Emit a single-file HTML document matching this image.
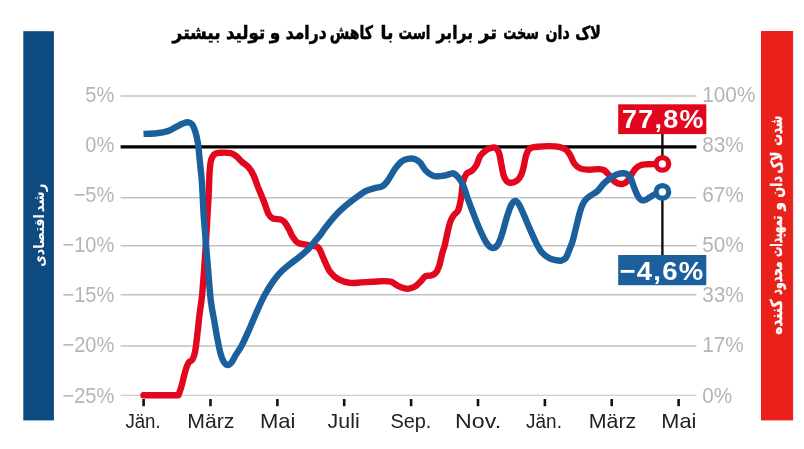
<!DOCTYPE html>
<html lang="fa"><head><meta charset="utf-8"><title>chart</title>
<style>
html,body{margin:0;padding:0;background:#fff}
body{width:804px;height:449px;overflow:hidden}
svg{display:block}
.yl{font-family:"Liberation Sans",sans-serif;font-size:21.5px;fill:#b5b5b5}
.xl{font-family:"Liberation Sans",sans-serif;font-size:20px;fill:#222}
.bl{font-family:"Liberation Sans",sans-serif;font-size:26px;font-weight:bold;fill:#fff;letter-spacing:1.2px}
.tt{font-family:"DejaVu Sans",sans-serif;font-weight:bold;fill:#000;stroke:#000;stroke-width:0.5px}
.sl{font-family:"DejaVu Sans",sans-serif;font-weight:bold;fill:#fff}
.sr{font-family:"DejaVu Sans",sans-serif;font-weight:bold;fill:#fff;stroke:#fff;stroke-width:0.35px}
</style></head><body>
<svg width="804" height="449" viewBox="0 0 804 449">
<rect width="804" height="449" fill="#fff"/>
<rect x="23.3" y="31.2" width="30.6" height="389.2" fill="#0c4a80"/>
<rect x="761" y="31" width="32.1" height="389.4" fill="#e9211a"/>
<line x1="120.6" x2="696.4" y1="96.1" y2="96.1" stroke="#c2c2c2" stroke-width="1.5"/>
<line x1="120.6" x2="696.4" y1="197.8" y2="197.8" stroke="#c2c2c2" stroke-width="1.5"/>
<line x1="120.6" x2="696.4" y1="245.7" y2="245.7" stroke="#c2c2c2" stroke-width="1.5"/>
<line x1="120.6" x2="696.4" y1="294.7" y2="294.7" stroke="#c2c2c2" stroke-width="1.5"/>
<line x1="120.6" x2="696.4" y1="346.1" y2="346.1" stroke="#c2c2c2" stroke-width="1.5"/>
<line x1="120.6" x2="696.4" y1="395.2" y2="395.2" stroke="#c2c2c2" stroke-width="1.1"/>
<text transform="translate(114.3 102.1) scale(0.932 1)" text-anchor="end" class="yl">5%</text>
<text transform="translate(702.3 102.1) scale(0.965 1)" text-anchor="start" class="yl">100%</text>
<text transform="translate(114.3 152.2) scale(0.932 1)" text-anchor="end" class="yl">0%</text>
<text transform="translate(702.3 152.2) scale(0.965 1)" text-anchor="start" class="yl">83%</text>
<text transform="translate(114.3 202.2) scale(0.932 1)" text-anchor="end" class="yl">−5%</text>
<text transform="translate(702.3 202.2) scale(0.965 1)" text-anchor="start" class="yl">67%</text>
<text transform="translate(114.3 252.3) scale(0.932 1)" text-anchor="end" class="yl">−10%</text>
<text transform="translate(702.3 252.3) scale(0.965 1)" text-anchor="start" class="yl">50%</text>
<text transform="translate(114.3 302.3) scale(0.932 1)" text-anchor="end" class="yl">−15%</text>
<text transform="translate(702.3 302.3) scale(0.965 1)" text-anchor="start" class="yl">33%</text>
<text transform="translate(114.3 352.4) scale(0.932 1)" text-anchor="end" class="yl">−20%</text>
<text transform="translate(702.3 352.4) scale(0.965 1)" text-anchor="start" class="yl">17%</text>
<text transform="translate(114.3 402.5) scale(0.932 1)" text-anchor="end" class="yl">−25%</text>
<text transform="translate(702.3 402.5) scale(0.965 1)" text-anchor="start" class="yl">0%</text>
<line x1="143.6" x2="143.6" y1="399" y2="406.2" stroke="#111" stroke-width="2.6"/>
<text transform="translate(143.0 428.2) scale(0.933 1)" text-anchor="middle" class="xl">Jän.</text>
<line x1="210.5" x2="210.5" y1="399" y2="406.2" stroke="#111" stroke-width="2.6"/>
<text transform="translate(210.8 428.2) scale(1.064 1)" text-anchor="middle" class="xl">März</text>
<line x1="277.4" x2="277.4" y1="399" y2="406.2" stroke="#111" stroke-width="2.6"/>
<text transform="translate(277.6 428.2) scale(1.100 1)" text-anchor="middle" class="xl">Mai</text>
<line x1="344.2" x2="344.2" y1="399" y2="406.2" stroke="#111" stroke-width="2.6"/>
<text transform="translate(343.6 428.2) scale(1.068 1)" text-anchor="middle" class="xl">Juli</text>
<line x1="411.1" x2="411.1" y1="399" y2="406.2" stroke="#111" stroke-width="2.6"/>
<text transform="translate(410.9 428.2) scale(0.997 1)" text-anchor="middle" class="xl">Sep.</text>
<line x1="478.0" x2="478.0" y1="399" y2="406.2" stroke="#111" stroke-width="2.6"/>
<text transform="translate(478.1 428.2) scale(1.161 1)" text-anchor="middle" class="xl">Nov.</text>
<line x1="544.9" x2="544.9" y1="399" y2="406.2" stroke="#111" stroke-width="2.6"/>
<text transform="translate(544.0 428.2) scale(0.947 1)" text-anchor="middle" class="xl">Jän.</text>
<line x1="611.7" x2="611.7" y1="399" y2="406.2" stroke="#111" stroke-width="2.6"/>
<text transform="translate(612.5 428.2) scale(1.071 1)" text-anchor="middle" class="xl">März</text>
<line x1="678.6" x2="678.6" y1="399" y2="406.2" stroke="#111" stroke-width="2.6"/>
<text transform="translate(678.8 428.2) scale(1.086 1)" text-anchor="middle" class="xl">Mai</text>
<line x1="662.4" x2="662.4" y1="133" y2="158" stroke="#111" stroke-width="2.4"/>
<line x1="662.4" x2="662.4" y1="197" y2="256" stroke="#111" stroke-width="2.4"/>
<line x1="120.6" x2="696.4" y1="146.8" y2="146.8" stroke="#000" stroke-width="3.2"/>
<path d="M143.5 395.3C149.3 395.3 178.4 395.3 178.4 395.3C178.4 395.3 180.7 389.0 181.8 385.1C182.9 381.2 184.0 375.5 185.1 371.8C186.2 368.1 187.3 364.9 188.5 362.9C189.7 360.8 191.4 361.4 192.5 359.5C193.6 357.6 194.3 356.0 195.1 351.7C195.9 347.4 196.7 340.2 197.4 333.9C198.2 327.6 198.9 319.5 199.6 313.9C200.3 308.3 201.0 304.4 201.5 300.5C202.0 296.6 202.1 295.8 202.5 290.5C202.9 285.2 203.6 276.7 204.2 268.5C204.8 260.3 205.5 249.8 206.0 241.5C206.5 233.2 206.9 226.1 207.3 218.5C207.7 210.9 208.2 203.6 208.6 196.2C209.0 188.8 209.1 179.8 209.5 173.9C209.9 168.0 210.1 163.8 211.0 160.5C211.9 157.2 213.2 155.2 215.0 153.9C216.8 152.6 219.1 152.8 221.7 152.7C224.3 152.6 228.2 152.6 230.6 153.2C233.0 153.8 234.3 154.7 236.2 156.1C238.1 157.5 239.8 159.8 241.8 161.7C243.9 163.5 246.6 165.0 248.5 167.2C250.4 169.4 251.7 171.5 253.4 175.0C255.1 178.5 256.7 184.0 258.5 188.4C260.3 192.8 262.3 197.4 264.0 201.7C265.7 206.0 267.0 211.2 268.5 214.0C270.0 216.8 271.0 217.6 273.0 218.5C275.0 219.4 278.7 218.9 280.7 219.6C282.7 220.3 283.7 221.1 285.2 222.9C286.7 224.8 288.5 228.5 289.7 230.7C290.9 232.9 290.9 234.1 292.3 236.1C293.7 238.1 295.2 241.3 297.8 242.8C300.4 244.3 304.5 244.2 307.9 245.0C311.2 245.8 315.3 245.1 317.9 247.3C320.5 249.5 321.5 254.3 323.5 258.4C325.5 262.5 327.5 268.3 330.1 271.8C332.7 275.3 335.7 277.8 339.0 279.6C342.3 281.5 346.3 282.4 350.0 282.9C353.7 283.4 357.4 282.6 361.1 282.4C364.8 282.2 368.6 282.0 372.3 281.8C376.0 281.6 380.2 281.1 383.4 281.1C386.5 281.1 388.8 281.0 391.2 281.8C393.6 282.6 395.7 284.7 397.9 285.8C400.1 286.9 402.6 288.0 404.6 288.4C406.6 288.8 408.2 288.8 410.1 288.4C412.0 288.0 413.8 287.5 415.7 286.2C417.6 284.9 419.6 282.4 421.3 280.7C423.0 279.0 424.0 277.1 425.7 276.2C427.4 275.3 429.6 276.1 431.3 275.5C433.0 274.9 434.4 274.4 435.7 272.9C437.0 271.3 438.0 269.5 439.1 266.2C440.2 262.9 441.5 256.2 442.4 252.8C443.3 249.4 443.8 248.9 444.7 245.5C445.6 242.1 446.6 236.5 447.5 232.5C448.4 228.5 449.4 224.3 450.4 221.5C451.4 218.7 452.4 217.2 453.6 215.5C454.8 213.8 456.8 212.8 457.8 211.0C458.8 209.2 459.2 206.9 459.8 204.5C460.4 202.1 460.8 200.3 461.3 196.5C461.9 192.7 462.2 185.5 463.1 181.7C464.0 177.9 464.9 175.8 466.4 173.9C467.9 172.1 470.3 172.1 472.0 170.6C473.7 169.1 475.1 167.4 476.5 165.0C477.9 162.6 478.6 158.5 480.1 156.1C481.6 153.7 483.9 151.9 485.7 150.5C487.5 149.1 489.5 148.3 491.2 147.9C492.9 147.5 494.4 147.1 495.7 147.9C497.0 148.7 498.1 150.1 499.0 152.8C499.9 155.5 500.6 160.2 501.3 163.9C502.1 167.6 502.6 172.1 503.5 175.0C504.4 177.9 505.5 180.0 506.8 181.3C508.1 182.6 509.6 182.9 511.3 182.8C513.0 182.7 515.3 181.7 516.9 180.6C518.5 179.5 519.6 178.0 520.7 176.0C521.8 174.0 522.4 171.9 523.3 168.4C524.2 164.9 525.1 158.3 526.2 155.0C527.3 151.7 528.1 149.7 530.0 148.3C531.9 146.9 534.6 147.2 537.8 146.8C541.0 146.4 545.5 146.1 549.0 146.1C552.5 146.1 556.2 146.2 559.0 146.8C561.8 147.4 563.9 148.0 565.7 149.4C567.6 150.8 568.6 152.6 570.1 155.0C571.6 157.4 572.9 161.7 574.6 163.9C576.3 166.1 577.7 167.4 580.1 168.4C582.5 169.4 585.9 169.6 589.0 169.7C592.1 169.8 596.0 169.0 598.5 169.1C601.0 169.2 602.3 169.2 604.0 170.1C605.7 171.0 607.0 172.8 608.5 174.5C610.0 176.2 611.5 178.7 613.0 180.1C614.5 181.5 615.9 182.5 617.4 183.2C618.9 183.8 620.8 184.2 622.3 184.0C623.8 183.8 625.2 183.2 626.7 181.7C628.2 180.2 629.7 177.2 631.2 175.0C632.7 172.8 634.0 170.1 635.7 168.4C637.4 166.7 639.2 165.7 641.2 165.0C643.2 164.3 645.5 164.5 647.9 164.3C650.3 164.1 653.3 164.1 655.7 164.0C658.1 163.9 661.3 163.9 662.4 163.9" fill="none" stroke="#e2071c" stroke-width="6.4" stroke-linecap="round" stroke-linejoin="round"/>
<path d="M143.5 133.9C145.7 133.8 152.6 133.8 156.7 133.3C160.8 132.8 164.7 132.1 167.8 131.1C171.0 130.1 173.2 128.4 175.6 127.2C178.0 126.0 180.3 124.6 182.3 123.8C184.3 123.0 186.0 122.1 187.7 122.2C189.3 122.3 190.9 122.9 192.2 124.5C193.5 126.1 194.4 128.9 195.4 132.0C196.4 135.1 197.1 137.8 197.9 143.0C198.7 148.2 199.3 156.6 200.0 162.9C200.7 169.2 201.3 174.4 201.8 180.7C202.3 187.0 202.6 194.2 202.9 200.5C203.2 206.8 203.4 211.8 203.9 218.5C204.4 225.2 205.0 231.8 205.7 240.5C206.4 249.2 207.3 260.5 208.2 270.5C209.0 280.5 209.8 292.2 210.8 300.5C211.8 308.8 213.0 313.8 214.2 320.5C215.3 327.2 216.6 334.8 217.7 340.5C218.8 346.2 219.8 350.9 220.8 354.5C221.9 358.1 222.8 360.5 224.0 362.3C225.2 364.1 226.5 365.1 227.8 365.1C229.1 365.1 230.3 363.9 231.6 362.3C232.8 360.8 233.6 358.7 235.3 355.8C237.0 352.9 239.5 349.9 242.0 345.0C244.5 340.1 247.3 333.7 250.5 326.5C253.7 319.3 258.3 308.0 261.2 301.8C264.1 295.6 265.7 293.2 267.9 289.5C270.1 285.8 272.1 282.6 274.5 279.5C276.9 276.4 279.7 273.2 282.3 270.6C284.9 268.0 287.3 266.1 290.1 263.9C292.9 261.7 296.2 259.4 299.0 257.2C301.8 255.0 304.2 253.1 306.8 250.5C309.4 247.9 312.2 244.4 314.6 241.6C317.0 238.8 319.5 235.9 321.3 233.5C323.1 231.1 323.1 230.5 325.7 227.2C328.3 223.9 332.9 217.9 336.8 213.9C340.7 209.9 345.4 205.9 348.9 203.0C352.4 200.1 354.8 198.4 357.8 196.3C360.8 194.2 363.7 192.1 366.7 190.7C369.7 189.3 373.0 188.5 375.6 187.8C378.2 187.1 380.2 187.5 382.3 186.3C384.4 185.1 385.8 183.3 387.9 180.5C389.9 177.7 392.4 172.6 394.6 169.5C396.8 166.4 399.0 163.5 401.2 161.7C403.4 159.9 405.7 159.2 407.9 158.8C410.1 158.4 412.6 158.3 414.6 159.0C416.7 159.7 418.4 160.9 420.2 162.8C422.0 164.7 423.6 168.4 425.7 170.6C427.8 172.8 430.9 174.8 432.8 175.7C434.7 176.6 435.3 176.3 437.1 176.3C438.9 176.3 441.6 176.1 443.8 175.7C446.0 175.3 448.7 174.3 450.4 173.9C452.1 173.5 452.5 172.9 453.8 173.5C455.1 174.1 456.6 175.4 458.2 177.3C459.8 179.2 461.6 181.7 463.1 185.1C464.7 188.5 465.8 193.4 467.5 198.0C469.2 202.6 471.1 207.6 473.1 212.8C475.2 218.1 477.6 224.5 479.8 229.5C482.0 234.5 484.5 239.7 486.5 242.8C488.5 245.9 490.1 247.5 492.0 247.9C493.9 248.3 495.9 247.3 497.6 245.0C499.3 242.7 500.6 238.3 502.1 233.9C503.6 229.5 505.0 223.0 506.5 218.3C508.0 213.6 509.6 208.4 511.0 205.5C512.4 202.6 513.3 201.3 514.6 201.1C515.9 200.9 517.2 201.6 518.8 204.1C520.4 206.6 522.3 211.4 524.3 215.9C526.3 220.4 528.7 226.4 530.8 231.1C532.9 235.8 534.8 240.3 536.7 243.9C538.6 247.5 540.2 250.5 542.3 252.8C544.3 255.2 546.8 256.8 549.0 258.0C551.2 259.2 553.6 259.8 555.6 260.2C557.6 260.6 559.5 261.0 561.2 260.6C562.9 260.2 564.3 259.9 565.7 258.0C567.1 256.1 568.3 252.4 569.5 249.5C570.7 246.6 571.8 244.0 572.8 240.5C573.8 237.0 574.6 233.1 575.8 228.5C576.9 223.9 578.6 216.8 579.7 212.8C580.8 208.8 581.6 206.7 582.6 204.5C583.6 202.3 584.3 201.2 585.5 199.8C586.7 198.4 588.0 197.5 590.0 196.0C592.0 194.5 595.5 192.8 597.7 190.8C599.9 188.8 601.4 186.1 603.4 184.0C605.4 181.9 607.8 180.0 610.0 178.4C612.2 176.8 614.5 175.4 616.7 174.6C618.9 173.8 621.5 173.3 623.4 173.3C625.3 173.3 626.6 173.6 627.9 174.6C629.2 175.6 630.1 177.3 631.2 179.5C632.3 181.7 633.2 185.2 634.3 187.9C635.3 190.6 636.5 193.6 637.5 195.5C638.5 197.4 639.4 198.8 640.6 199.6C641.8 200.4 643.1 200.5 644.6 200.2C646.1 199.9 647.8 198.6 649.5 197.6C651.2 196.6 652.5 195.3 654.6 194.4C656.8 193.5 661.1 192.3 662.4 191.9" fill="none" stroke="#1b609d" stroke-width="6.4" stroke-linecap="butt" stroke-linejoin="round"/>
<circle cx="662.4" cy="163.9" r="6.3" fill="#fff" stroke="#e2071c" stroke-width="5.3"/>
<circle cx="662.4" cy="191.9" r="6.3" fill="#fff" stroke="#1b609d" stroke-width="5.3"/>
<rect x="618.2" y="104.3" width="88.1" height="29.8" fill="#e2071c"/>
<text transform="translate(663.3 128.2) scale(1.037 1)" text-anchor="middle" class="bl">77,8%</text>
<rect x="618.2" y="255" width="88.1" height="30.2" fill="#1b609d"/>
<text transform="translate(662 279.5) scale(1.059 1)" text-anchor="middle" class="bl">−4,6%</text>
<g class="tt" font-size="17.5">
<text transform="translate(588.0 38.8) scale(0.832 1.06)" text-anchor="middle" direction="rtl">لاک</text>
<text transform="translate(557.6 38.8) scale(0.813 1.06)" text-anchor="middle" direction="rtl">دان</text>
<text transform="translate(521.2 38.8) scale(0.738 1.06)" text-anchor="middle" direction="rtl">سخت</text>
<text transform="translate(488.1 38.8) scale(1.037 1.06)" text-anchor="middle" direction="rtl">تر</text>
<text transform="translate(454.8 38.8) scale(0.889 1.06)" text-anchor="middle" direction="rtl">برابر</text>
<text transform="translate(414.5 38.8) scale(0.765 1.06)" text-anchor="middle" direction="rtl">است</text>
<text transform="translate(387.0 38.8) scale(0.981 1.06)" text-anchor="middle" direction="rtl">با</text>
<text transform="translate(351.3 38.8) scale(0.808 1.06)" text-anchor="middle" direction="rtl">کاهش</text>
<text transform="translate(306.2 38.8) scale(0.889 1.06)" text-anchor="middle" direction="rtl">درامد</text>
<text transform="translate(274.9 38.8) scale(0.971 1.06)" text-anchor="middle" direction="rtl">و</text>
<text transform="translate(245.6 38.8) scale(0.947 1.06)" text-anchor="middle" direction="rtl">تولید</text>
<text transform="translate(196.6 38.8) scale(0.971 1.06)" text-anchor="middle" direction="rtl">بیشتر</text>
</g>
<g class="sl" font-size="14.6">
<text transform="translate(43.6 197.9) rotate(-90) scale(0.920 1)" text-anchor="middle" direction="rtl">رشد</text>
<text transform="translate(43.6 240.5) rotate(-90) scale(0.857 1)" text-anchor="middle" direction="rtl">اقتصادی</text>
</g>
<g class="sr" font-size="16.4">
<text transform="translate(782.3 130.8) rotate(-90) scale(0.714 1)" text-anchor="middle" direction="rtl">شدت</text>
<text transform="translate(782.3 162.8) rotate(-90) scale(0.762 1)" text-anchor="middle" direction="rtl">لاک</text>
<text transform="translate(782.3 186.9) rotate(-90) scale(0.778 1)" text-anchor="middle" direction="rtl">دان</text>
<text transform="translate(782.3 206.2) rotate(-90) scale(0.823 1)" text-anchor="middle" direction="rtl">و</text>
<text transform="translate(782.3 236.4) rotate(-90) scale(0.625 1)" text-anchor="middle" direction="rtl">تمهیدات</text>
<text transform="translate(782.3 278.1) rotate(-90) scale(0.663 1)" text-anchor="middle" direction="rtl">محدود</text>
<text transform="translate(782.3 317.2) rotate(-90) scale(0.838 1)" text-anchor="middle" direction="rtl">کننده</text>
</g>
</svg>
</body></html>
